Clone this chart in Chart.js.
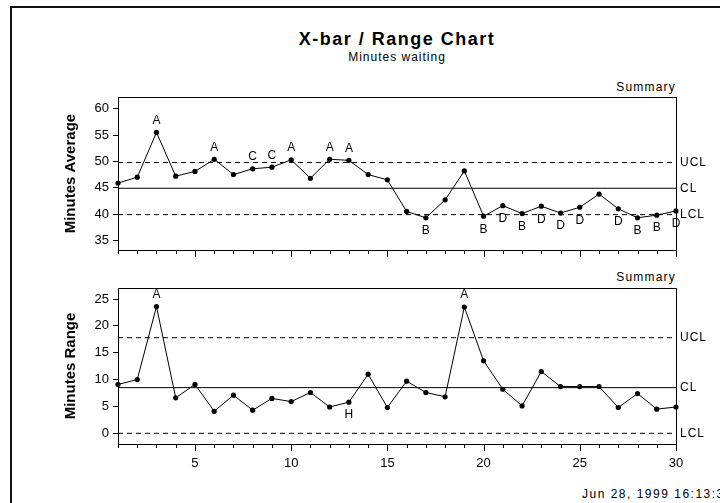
<!DOCTYPE html>
<html>
<head>
<meta charset="utf-8">
<script src="https://cdn.jsdelivr.net/npm/chart.js@4.4.0/dist/chart.umd.min.js"></script>
<style>
  html, body { margin: 0; padding: 0; background: #fff; }
  #page { position: relative; width: 720px; height: 503px; overflow: hidden; font-family: "Liberation Sans", Arial, sans-serif; color: #000; }
  #frame { position: absolute; left: 10px; top: 6px; right: -10px; bottom: -10px; border-top: 2px solid #111; border-left: 2px solid #111; }
  canvas { position: absolute; left: 0; }
  .txt { position: absolute; white-space: nowrap; }
  #title { left: 247px; width: 300px; top: 30px; text-align: center; font-size: 18px; line-height: 18px; font-weight: bold; letter-spacing: 1.5px; }
  #subtitle { left: 297px; width: 200px; top: 51px; text-align: center; font-size: 12px; line-height: 12px; letter-spacing: 1px; }
  .summary { right: 44px; font-size: 12px; line-height: 12px; letter-spacing: 1.2px; }
  #stamp { left: 582px; top: 488px; font-size: 12px; line-height: 12px; letter-spacing: 1.5px; }
</style>
</head>
<body>
<div id="page">
  <div id="frame"></div>
  <div class="txt" id="title">X-bar / Range Chart</div>
  <div class="txt" id="subtitle">Minutes waiting</div>
  <div class="txt summary" style="top:81px">Summary</div>
  <div class="txt summary" style="top:271px">Summary</div>
  <div class="txt" id="stamp">Jun 28, 1999 16:13:31</div>
  <canvas id="avgChart" width="720" height="262" style="top:0"></canvas>
  <canvas id="rangeChart" width="720" height="241" style="top:262px"></canvas>
</div>
<script>
// samples and x axis labels
const samples = [1,2,3,4,5,6,7,8,9,10,11,12,13,14,15,16,17,18,19,20,21,22,23,24,25,26,27,28,29,30];
const xLabels = [5, 10, 15, 20, 25, 30];

// X-bar chart
const avgValues = [45.9, 47.0, 55.5, 47.2, 48.1, 50.4, 47.5, 48.6, 48.9, 50.3,
                   46.8, 50.4, 50.2, 47.5, 46.5, 40.5, 39.3, 42.7, 48.2, 39.6,
                   41.6, 40.1, 41.5, 40.2, 41.3, 43.8, 41.0, 39.3, 39.8, 40.6];
const avgFlags = ['', '', 'A', '', '', 'A', '', 'C', 'C', 'A',
                  '', 'A', 'A', '', '', '', 'B', '', '', 'B',
                  'D', 'B', 'D', 'D', 'D', '', 'D', 'B', 'B', 'D'];
const avgLimits = [49.8, 44.9, 39.9];
const avgTicks = [35, 40, 45, 50, 55, 60];

// Range chart
const rangeValues = [9.1, 10.0, 23.6, 6.6, 9.1, 4.1, 7.1, 4.3, 6.5, 5.9,
                     7.6, 4.9, 5.8, 11.0, 4.8, 9.7, 7.6, 6.8, 23.5, 13.5,
                     8.2, 5.1, 11.5, 8.7, 8.7, 8.7, 4.8, 7.4, 4.5, 4.9];
const rangeFlags = ['', '', 'A', '', '', '', '', '', '', '',
                    '', '', 'H', '', '', '', '', '', 'A', '',
                    '', '', '', '', '', '', '', '', '', ''];
const rangeLimits = [17.8, 8.5, 0];
const rangeTicks = [0, 5, 10, 15, 20, 25];

const limitNames = ['UCL', 'CL', 'LCL'];

Chart.defaults.font.family = "'Liberation Sans', Arial, sans-serif";
Chart.defaults.color = '#000';

function spcPlugin(flags, limits) {
  return {
    id: 'spc',
    afterDatasetsDraw(chart) {
      const { ctx, chartArea: a, scales: { x, y } } = chart;
      ctx.save();
      ctx.strokeStyle = '#000';
      ctx.lineWidth = 1;
      ctx.setLineDash([]);
      ctx.strokeRect(Math.round(a.left) + 0.5, Math.round(a.top) + 0.5,
                     Math.round(a.right - a.left), Math.round(a.bottom - a.top));
      // x tick marks, longer at labelled ones
      ctx.beginPath();
      const b = Math.round(a.bottom) + 1;
      samples.forEach(s => {
        const px = Math.round(x.getPixelForValue(s)) + 0.5;
        ctx.moveTo(px, b);
        ctx.lineTo(px, b + (xLabels.includes(s) ? 6 : 3));
      });
      ctx.stroke();
      // rule letters
      ctx.fillStyle = '#000';
      ctx.font = "12px 'Liberation Sans', Arial, sans-serif";
      ctx.textAlign = 'center';
      ctx.textBaseline = 'middle';
      const meta = chart.getDatasetMeta(0);
      flags.forEach((f, i) => {
        if (!f) return;
        const p = meta.data[i];
        const above = f === 'A' || f === 'C';
        ctx.fillText(f, p.x, p.y + (above ? -12 : 13));
      });
      // limit names on the right
      ctx.textAlign = 'left';
      ctx.letterSpacing = '1px';
      limits.forEach((v, i) => {
        ctx.fillText(limitNames[i], a.right + 4, y.getPixelForValue(v));
      });
      ctx.restore();
    }
  };
}

function makeChart(id, values, flags, limits, ticks, yMin, yMax, yTitle, showX, padTop, xHeight) {
  const datasets = [{
    data: samples.map((s, i) => ({ x: s, y: values[i] })),
    borderColor: '#000',
    borderWidth: 1,
    pointRadius: 2.6,
    pointBackgroundColor: '#000',
    pointBorderWidth: 0,
    tension: 0,
    clip: false
  }];
  limits.forEach((v, i) => {
    datasets.push({
      data: [{ x: samples[0], y: v }, { x: samples[samples.length - 1], y: v }],
      borderColor: '#000',
      borderWidth: 1,
      borderDash: i === 1 ? [] : [5, 4],
      pointRadius: 0
    });
  });

  return new Chart(document.getElementById(id), {
    type: 'line',
    data: { datasets },
    options: {
      responsive: false,
      animation: false,
      devicePixelRatio: 1,
      layout: { padding: { top: padTop, right: 44, left: 0, bottom: 0 } },
      plugins: { legend: { display: false }, tooltip: { enabled: false } },
      scales: {
        x: {
          type: 'linear',
          min: samples[0],
          max: samples[samples.length - 1],
          grid: { display: false },
          border: { display: false },
          afterBuildTicks: s => { s.ticks = xLabels.map(v => ({ value: v })); },
          afterFit: s => { s.height = xHeight; },
          ticks: {
            display: showX,
            autoSkip: false,
            maxRotation: 0,
            padding: 4,
            font: { size: 13 },
            callback: v => String(v)
          }
        },
        y: {
          min: yMin,
          max: yMax,
          afterBuildTicks: s => { s.ticks = ticks.map(v => ({ value: v })); },
          afterFit: s => { s.width = 118; },
          border: { display: false },
          grid: { drawOnChartArea: false, tickLength: 5, color: '#000' },
          ticks: { padding: 4, font: { size: 13 }, callback: v => String(v) },
          title: {
            display: true,
            text: yTitle,
            font: { size: 15, weight: 'bold' },
            padding: { top: 62, bottom: 0 }
          }
        }
      }
    },
    plugins: [spcPlugin(flags, limits)]
  });
}

makeChart('avgChart', avgValues, avgFlags, avgLimits, avgTicks, 33.15, 62.22,
          'Minutes Average', false, 97, 8);
makeChart('rangeChart', rangeValues, rangeFlags, rangeLimits, rangeTicks, -1.99, 27.05,
          'Minutes Range', true, 26, 59);
</script>
</body>
</html>
